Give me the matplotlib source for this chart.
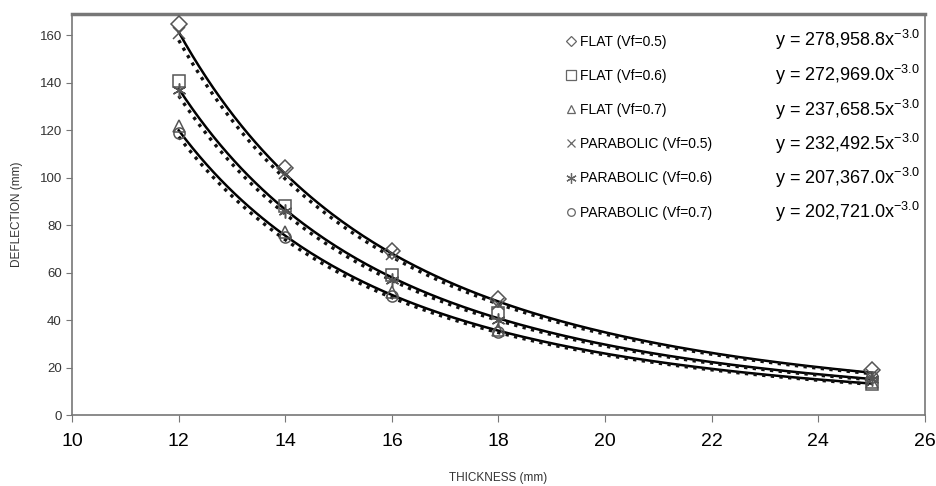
import numpy as np
import matplotlib
matplotlib.use('Agg')
import matplotlib.pyplot as plt
from matplotlib.lines import Line2D

plt.rcParams['font.family'] = ['Liberation Sans', 'DejaVu Sans']

thickness = [12, 14, 16, 18, 25]

flat_05 = [165, 104, 69, 49, 19]
flat_06 = [141, 88, 59, 43, 13]
flat_07 = [122, 77, 52, 36, 14]
para_05 = [161, 102, 68, 47, 17]
para_06 = [137, 86, 57, 40, 15]
para_07 = [119, 75, 50, 35, 16]

labels = ['FLAT (Vf=0.5)', 'FLAT (Vf=0.6)', 'FLAT (Vf=0.7)',
          'PARABOLIC (Vf=0.5)', 'PARABOLIC (Vf=0.6)', 'PARABOLIC (Vf=0.7)']
# trendline equations as printed on the chart: y = a * x^b
coef = [278958.8, 272969.0, 237658.5, 232492.5, 207367.0, 202721.0]
expo = [-3.0, -3.0, -3.0, -3.0, -3.0, -3.0]

series = [flat_05, flat_06, flat_07, para_05, para_06, para_07]
markers = ['D', 's', '^', 'x', (6, 2, 0), 'o']
msizes = [8, 9, 8, 8, 10, 8]
trend_styles = ['-', ':', '-', ':', '-', ':']

fig = plt.figure(figsize=(9.37, 4.86), dpi=100)
ax = fig.add_axes([0.077, 0.146, 0.910, 0.825])

x = np.array(thickness, dtype=float)
xs = np.linspace(12, 25, 200)
mark_col = '#555555'

handles = []
for vals, a, b, m, ms, ls in zip(series, coef, expo, markers, msizes, trend_styles):
    if ls == '-':
        ax.plot(xs, a * xs ** b, color='black', linestyle='-', linewidth=1.8, zorder=2)
    else:
        ax.plot(xs, a * xs ** b, color='#111111', linestyle=(0, (1, 1.6)),
                linewidth=2.4, zorder=2)
    ax.plot(x, vals, linestyle='none', marker=m, markersize=ms,
            markerfacecolor='none', markeredgecolor=mark_col,
            markeredgewidth=1.1, zorder=3)
    handles.append(Line2D([], [], linestyle='none', marker=m, markersize=ms - 2.5,
                          markerfacecolor='none', markeredgecolor='#666666',
                          markeredgewidth=0.9))

leg = ax.legend(handles, labels, loc='upper left', bbox_to_anchor=(0.574, 0.962),
                frameon=False, fontsize=10, handlelength=0.6, handletextpad=0.3,
                labelspacing=1.45, borderaxespad=0)

row_y = [40, 75, 110, 144, 178, 212]
for a, b, py in zip(coef, expo, row_y):
    fig.text(920 / 937, 1 - py / 486,
             'y = ' + f'{a:,.1f}' + 'x$^{\\mathregular{' + f'{b:.1f}' + '}}$',
             ha='right', va='center', fontsize=13, color='black')

ax.set_xlim(10, 26)
ax.set_ylim(0, 169)
ax.set_xticks(range(10, 27, 2))
ax.set_yticks(range(0, 161, 20))
ax.tick_params(axis='x', labelsize=14, direction='out', length=5, color='#777777', pad=8)
ax.tick_params(axis='y', labelsize=9.5, direction='out', length=4, color='#777777',
               labelcolor='#333333')
for lab in ax.get_xticklabels():
    lab.set_family(['Liberation Sans Narrow', 'Liberation Sans'])

for s in ax.spines.values():
    s.set_color('#777777')
    s.set_linewidth(1.2)
ax.spines['top'].set_linewidth(2.5)

ax.set_xlabel('THICKNESS (mm)', fontsize=8.5, color='#333333', labelpad=16)
ax.set_ylabel('DEFLECTION (mm)', fontsize=8.5, color='#333333', labelpad=12)

fig.savefig('out.png', dpi=100)
